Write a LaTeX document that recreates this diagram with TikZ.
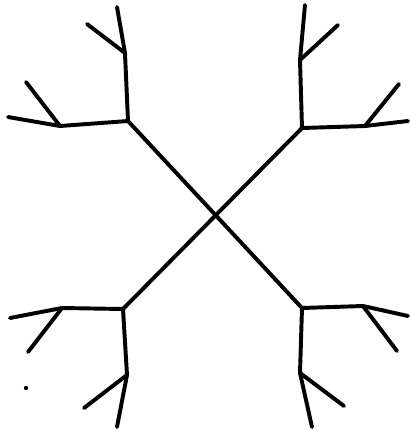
\documentclass[tikz,border=0pt]{standalone}
\begin{document}
\begin{tikzpicture}[
		x=0.025cm, y=-0.025cm,
		every path/.style={line width=2.8pt, line cap=round, line join=round}
		]
		\useasboundingbox (0,0) rectangle (410,430);
		% junctions
		\coordinate (tl) at (128,121);
		\coordinate (tr) at (302,128);
		\coordinate (bl) at (123,309);
		\coordinate (br) at (302,308);
		% upper left arms
		\coordinate (tlv) at (125,53);
		\coordinate (tlva) at (117,7);
		\coordinate (tlvb) at (87,24);
		\coordinate (tlh) at (60,126);
		\coordinate (tlha) at (8,117);
		\coordinate (tlhb) at (26,82);
		% upper right arms
		\coordinate (trv) at (300,60);
		\coordinate (trva) at (305,5);
		\coordinate (trvb) at (338,25);
		\coordinate (trh) at (365,126);
		\coordinate (trha) at (408,121);
		\coordinate (trhb) at (399,84);
		% lower left arms
		\coordinate (blv) at (127,375);
		\coordinate (blva) at (117,427);
		\coordinate (blvb) at (84,408);
		\coordinate (blh) at (62,308);
		\coordinate (blha) at (10,318);
		\coordinate (blhb) at (28,352);
		% lower right arms
		\coordinate (brv) at (300,373);
		\coordinate (brva) at (312,427);
		\coordinate (brvb) at (344,406);
		\coordinate (brh) at (363,306);
		\coordinate (brha) at (408,316);
		\coordinate (brhb) at (397,351);
		\def\drawfork#1{
			\draw (#1) -- (#1v) -- (#1va);
			\draw (#1v) -- (#1vb);
			\draw (#1) -- (#1h) -- (#1ha);
			\draw (#1h) -- (#1hb);
		}
		% the cross
		\draw (tl) -- (br);
		\draw (tr) -- (bl);
		\drawfork{tl}
		\drawfork{tr}
		\drawfork{bl}
		\drawfork{br}
		\fill (26,388) circle (2.2);
	\end{tikzpicture}
\end{document}
